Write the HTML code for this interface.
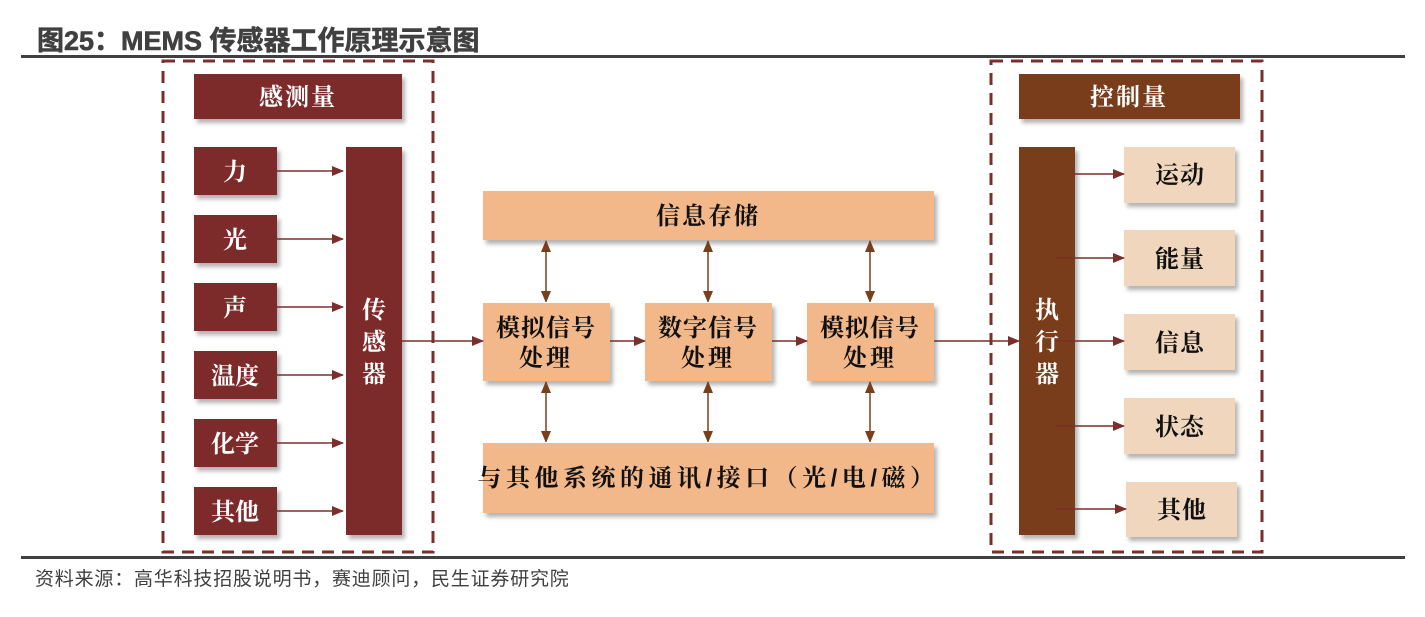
<!DOCTYPE html>
<html><head><meta charset="utf-8"><style>
body{margin:0;background:#fff;width:1425px;height:612px;overflow:hidden}
svg text{font-family:"Liberation Sans","Noto Serif CJK SC","Noto Sans CJK SC",serif}
</style></head><body>
<svg width="1425" height="612" xmlns="http://www.w3.org/2000/svg">
<defs>
<marker id="ar" markerWidth="12" markerHeight="10" refX="11" refY="5" orient="auto" markerUnits="userSpaceOnUse"><path d="M0,0L12,5L0,10z" fill="#7b2e2b"/></marker>
<marker id="ab" markerWidth="10" markerHeight="12" refX="11" refY="5" orient="auto" markerUnits="userSpaceOnUse"><path d="M0,0L12,5L0,10z" fill="#7a3e1a"/></marker>
<marker id="abs" markerWidth="12" markerHeight="10" refX="1" refY="5" orient="auto" markerUnits="userSpaceOnUse"><path d="M12,0L0,5L12,10z" fill="#7a3e1a"/></marker>
<filter id="sh" x="-10%" y="-10%" width="130%" height="140%"><feDropShadow dx="3" dy="4" stdDeviation="2" flood-color="#000" flood-opacity="0.3"/></filter>
</defs>
<text x="37" y="50" font-size="27" font-weight="bold" fill="#404040" stroke="#404040" stroke-width="0.6" style='font-family:"Liberation Sans","Noto Sans CJK SC",sans-serif'>图25：MEMS 传感器工作原理示意图</text>
<rect x="21" y="55" width="1384" height="3" fill="#404040"/>
<rect x="21" y="556" width="1384" height="3" fill="#404040"/>
<text x="35" y="585" font-size="19" letter-spacing="0.8" fill="#404040" style='font-family:"Liberation Sans","Noto Sans CJK SC",sans-serif'>资料来源：高华科技招股说明书，赛迪顾问，民生证券研究院</text>

<rect x="163" y="61" width="270" height="491" fill="none" stroke="#7b2e2b" stroke-width="3" stroke-dasharray="12,8"/>
<rect x="991" y="61" width="271" height="491" fill="none" stroke="#7b2e2b" stroke-width="3" stroke-dasharray="12,8"/>

<g filter="url(#sh)">
<rect x="194" y="74" width="208" height="45" fill="#7b2b2b"/>
<rect x="194" y="147" width="83" height="48" fill="#7b2b2b"/>
<rect x="194" y="215" width="83" height="48" fill="#7b2b2b"/>
<rect x="194" y="283" width="83" height="48" fill="#7b2b2b"/>
<rect x="194" y="351" width="83" height="48" fill="#7b2b2b"/>
<rect x="194" y="419" width="83" height="48" fill="#7b2b2b"/>
<rect x="194" y="487" width="83" height="48" fill="#7b2b2b"/>
<rect x="346" y="147" width="56" height="388" fill="#7b2b2b"/>
<rect x="483" y="191" width="451" height="49" fill="#f2b88a"/>
<rect x="483" y="303" width="127" height="78" fill="#f2b88a"/>
<rect x="645" y="303" width="127" height="78" fill="#f2b88a"/>
<rect x="807" y="303" width="127" height="78" fill="#f2b88a"/>
<rect x="483" y="443" width="451" height="70" fill="#f2b88a"/>
<rect x="1019" y="74" width="221" height="45" fill="#7a3e1a"/>
<rect x="1019" y="147" width="56" height="388" fill="#7a3e1a"/>
<rect x="1124" y="147" width="111" height="56" fill="#f0d6bd"/>
<rect x="1124" y="230" width="111" height="56" fill="#f0d6bd"/>
<rect x="1124" y="314" width="111" height="56" fill="#f0d6bd"/>
<rect x="1124" y="398" width="111" height="56" fill="#f0d6bd"/>
<rect x="1126" y="482" width="111" height="55" fill="#f0d6bd"/>
</g>

<g stroke="#7b2e2b" stroke-width="1.5" marker-end="url(#ar)">
<line x1="277" y1="171" x2="343" y2="171"/>
<line x1="277" y1="239" x2="343" y2="239"/>
<line x1="277" y1="307" x2="343" y2="307"/>
<line x1="277" y1="375" x2="343" y2="375"/>
<line x1="277" y1="443" x2="343" y2="443"/>
<line x1="277" y1="511" x2="343" y2="511"/>
<line x1="402" y1="341" x2="483" y2="341"/>
<line x1="610" y1="341" x2="645" y2="341"/>
<line x1="772" y1="341" x2="807" y2="341"/>
<line x1="934" y1="341" x2="1019" y2="341"/>
<line x1="1075" y1="174" x2="1124" y2="174"/>
<line x1="1055" y1="258" x2="1124" y2="258"/>
<line x1="1055" y1="341" x2="1124" y2="341"/>
<line x1="1055" y1="426" x2="1124" y2="426"/>
<line x1="1055" y1="509" x2="1126" y2="509"/>
</g>
<g stroke="#7a3e1a" stroke-width="1.5" marker-end="url(#ab)" marker-start="url(#abs)">
<line x1="546" y1="241" x2="546" y2="302"/>
<line x1="708" y1="241" x2="708" y2="302"/>
<line x1="870" y1="241" x2="870" y2="302"/>
<line x1="546" y1="382" x2="546" y2="442"/>
<line x1="708" y1="382" x2="708" y2="442"/>
<line x1="870" y1="382" x2="870" y2="442"/>
</g>

<g font-size="24" font-weight="bold" fill="#fff" text-anchor="middle">
<text x="298" y="105" letter-spacing="2">感测量</text>
<text x="235" y="180">力</text>
<text x="235" y="248">光</text>
<text x="235" y="316">声</text>
<text x="235" y="384">温度</text>
<text x="235" y="452">化学</text>
<text x="235" y="520">其他</text>
<text x="374" y="318">传</text>
<text x="374" y="350">感</text>
<text x="374" y="382">器</text>
<text x="1129" y="105" letter-spacing="2">控制量</text>
<text x="1047" y="318">执</text>
<text x="1047" y="350">行</text>
<text x="1047" y="382">器</text>
</g>
<g font-size="24" font-weight="bold" fill="#111" text-anchor="middle">
<text x="708" y="224" letter-spacing="2">信息存储</text>
<text x="546" y="336" letter-spacing="1">模拟信号</text>
<text x="546" y="366" letter-spacing="3">处理</text>
<text x="708" y="336" letter-spacing="1">数字信号</text>
<text x="708" y="366" letter-spacing="3">处理</text>
<text x="870" y="336" letter-spacing="1">模拟信号</text>
<text x="870" y="366" letter-spacing="3">处理</text>
<text x="708" y="486" letter-spacing="4.5">与其他系统的通讯/接口（光/电/磁）</text>
<text x="1180" y="183" letter-spacing="1">运动</text>
<text x="1180" y="267" letter-spacing="1">能量</text>
<text x="1180" y="351" letter-spacing="1">信息</text>
<text x="1180" y="435" letter-spacing="1">状态</text>
<text x="1182" y="518" letter-spacing="1">其他</text>
</g>
</svg>
</body></html>
